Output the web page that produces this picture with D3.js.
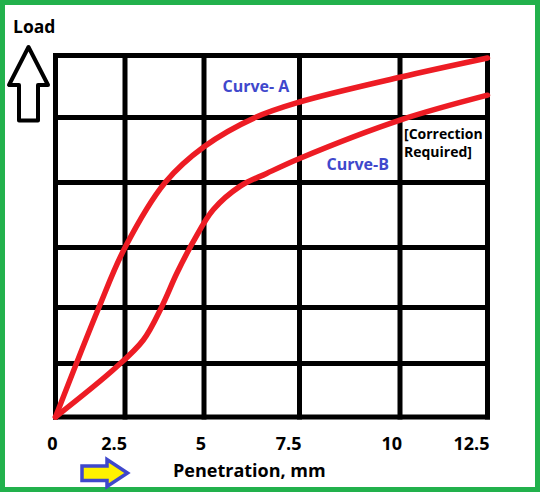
<!DOCTYPE html>
<html>
<head>
<meta charset="utf-8">
<script src="https://cdn.jsdelivr.net/npm/d3@7"></script>
<style>
  html, body { margin: 0; padding: 0; background: #fff; }
  svg text { font-family: "Open Sans", sans-serif; font-weight: 700; }
</style>
</head>
<body>
<div id="cbr-chart"></div>
<script>
(function(d3) {
  'use strict';

  // penetration (mm) gridlines / tick labels
  var xTicks = [0, 2.5, 5, 7.5, 10, 12.5];
  // load gridlines (no labels on the load axis)
  var yTicks = [0, 1, 2, 3, 4, 5, 6];

  // curves: penetration (mm), load (grid units)
  var curveAPen  = [0, 1.56, 2.5, 3.77, 5, 6.34, 7.5, 10, 12.5];
  var curveALoad = [0, 2.0, 3.0, 4.0, 4.55, 5.0, 5.25, 5.65, 5.96];
  var curveBPen  = [0, 2.14, 3.08, 3.66, 4.14, 4.66, 5.24, 5.94, 6.64, 7.5, 10, 12.5];
  var curveBLoad = [0, 0.91, 1.42, 2.01, 2.57, 3.09, 3.58, 3.94, 4.14, 4.37, 4.96, 5.36];

  var colors = {
    red: '#ed1c24',
    blue: '#3f48cc',
    green: '#22b14c',
    yellow: '#fff200'
  };

  var width = 540, height = 493;

  var svg = d3.select('#cbr-chart').append('svg')
    .attr('width', width)
    .attr('height', height);

  // the hand drawn grid is uneven, so piecewise scales
  var x = d3.scaleLinear()
    .domain(xTicks)
    .range([55.5, 125, 204, 299.5, 400, 487.5]);
  var y = d3.scaleLinear()
    .domain(yTicks)
    .range([417, 363.5, 307.5, 247.5, 182.5, 117.5, 55.5]);

  // green frame
  svg.append('rect')
    .attr('x', 2.5).attr('y', 2.5)
    .attr('width', 535).attr('height', 487)
    .attr('fill', 'none')
    .attr('stroke', colors.green)
    .attr('stroke-width', 5);

  var grid = svg.append('g')
    .attr('stroke', '#000')
    .attr('stroke-width', 5)
    .attr('stroke-linecap', 'square');

  grid.selectAll('line.h').data(yTicks).enter().append('line')
    .attr('class', 'h')
    .attr('x1', x(0)).attr('x2', x(12.5))
    .attr('y1', function(d) { return y(d); })
    .attr('y2', function(d) { return y(d); });

  grid.selectAll('line.v').data(xTicks).enter().append('line')
    .attr('class', 'v')
    .attr('y1', y(0)).attr('y2', y(6))
    .attr('x1', function(d) { return x(d); })
    .attr('x2', function(d) { return x(d); });

  // tick labels
  svg.append('g').selectAll('text').data(xTicks).enter().append('text')
    .attr('x', function(d) { return x(d) + 2; })
    .attr('y', 449.5)
    .attr('text-anchor', 'end')
    .attr('font-size', 18)
    .attr('fill', '#000')
    .text(function(d) { return d; });

  var line = d3.line()
    .x(function(d) { return x(d[0]); })
    .y(function(d) { return y(d[1]); })
    .curve(d3.curveCatmullRom.alpha(0.5));

  var curves = [d3.zip(curveAPen, curveALoad), d3.zip(curveBPen, curveBLoad)];

  svg.append('g').selectAll('path').data(curves).enter().append('path')
    .attr('d', line)
    .attr('fill', 'none')
    .attr('stroke', colors.red)
    .attr('stroke-width', 5.5)
    .attr('stroke-linecap', 'round')
    .attr('stroke-linejoin', 'round');

  // curve labels
  svg.append('text')
    .attr('x', 222.5).attr('y', 91.5)
    .attr('font-size', 16)
    .attr('fill', colors.blue)
    .text('Curve- A');
  svg.append('text')
    .attr('x', 326.5).attr('y', 170)
    .attr('font-size', 16)
    .attr('fill', colors.blue)
    .text('Curve-B');

  var note = svg.append('text')
    .attr('x', 404).attr('y', 138.5)
    .attr('font-size', 14)
    .attr('fill', '#000');
  note.append('tspan').attr('x', 404).text('[Correction');
  note.append('tspan').attr('x', 404).attr('dy', 18).text('Required]');

  // axis titles
  svg.append('text')
    .attr('x', 13).attr('y', 33)
    .attr('font-size', 17.5)
    .attr('fill', '#000')
    .text('Load');
  svg.append('text')
    .attr('x', 173).attr('y', 476.5)
    .attr('font-size', 18)
    .attr('fill', '#000')
    .text('Penetration, mm');

  // up arrow next to Load
  svg.append('path')
    .attr('d', 'M28.5,47 L9,85 L19,85 L19,120.5 L38,120.5 L38,85 L48,85 Z')
    .attr('fill', '#fff')
    .attr('stroke', '#000')
    .attr('stroke-width', 4)
    .attr('stroke-linejoin', 'round');

  // right arrow under the axis
  svg.append('path')
    .attr('d', 'M82,466 L107,466 L107,459.5 L127.5,473 L107,486.5 L107,480.5 L82,480.5 Z')
    .attr('fill', colors.yellow)
    .attr('stroke', colors.blue)
    .attr('stroke-width', 3.5)
    .attr('stroke-linejoin', 'miter');
}(d3));
</script>
</body>
</html>
